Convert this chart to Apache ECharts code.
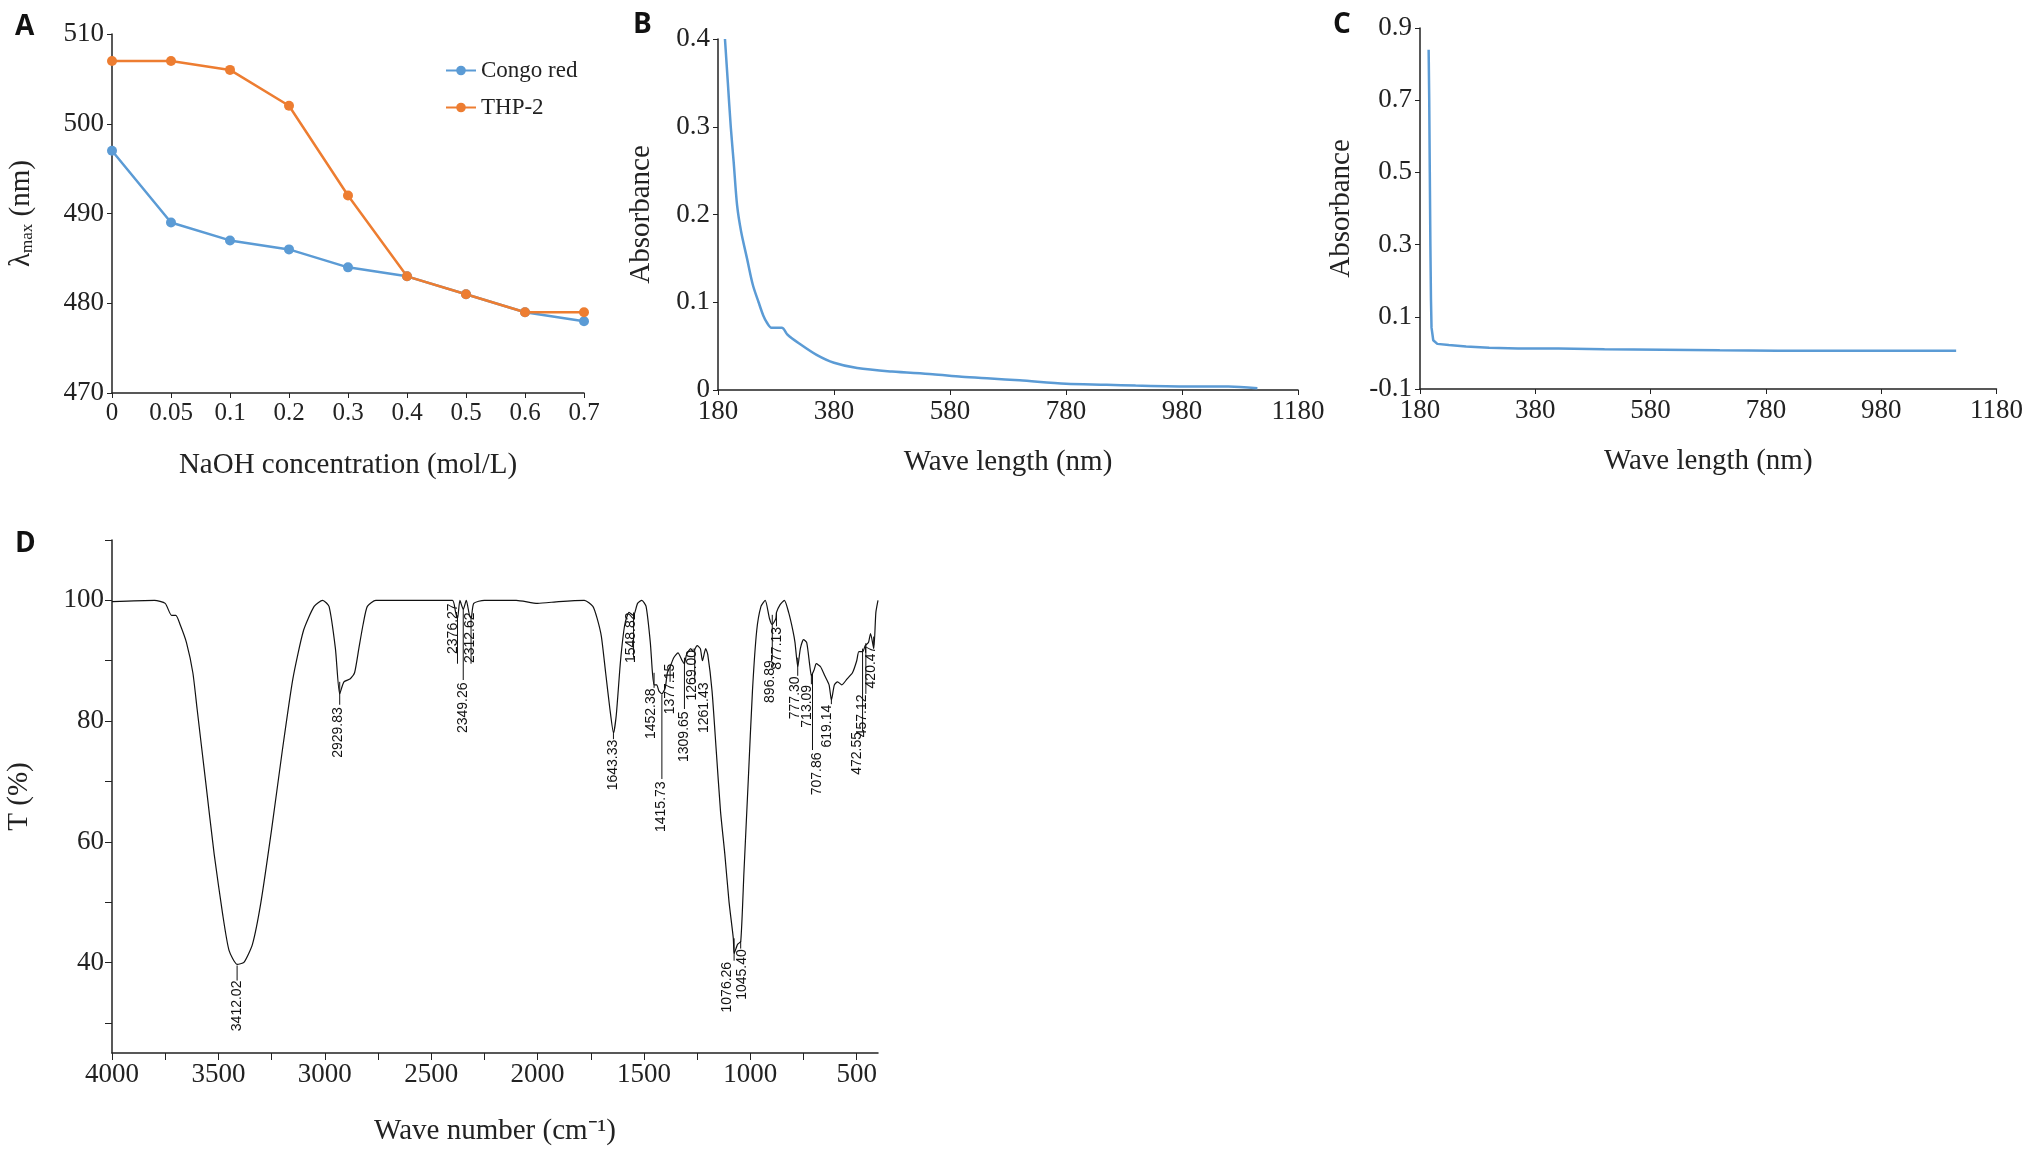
<!DOCTYPE html>
<html>
<head>
<meta charset="utf-8">
<script src="https://cdn.jsdelivr.net/npm/echarts@6/dist/echarts.min.js"></script>
<style>
html, body { margin: 0; padding: 0; background: #fff; }
#chart { width: 2026px; height: 1151px; }
</style>
</head>
<body>
<div id="chart"></div>
<script>
// A: NaOH 浓度
var naohLabels = ['0', '0.05', '0.1', '0.2', '0.3', '0.4', '0.5', '0.6', '0.7'];
var congoRed = [497, 489, 487, 486, 484, 483, 481, 479, 478];
var thp2 = [507, 507, 506, 502, 492, 483, 481, 479, 479];

// B: UV 光谱
var uvB = [[192, 0.4], [197, 0.35], [202, 0.3], [207, 0.26], [213, 0.21], [220, 0.18], [230, 0.15],
    [240, 0.12], [250, 0.1], [258, 0.085], [265, 0.076], [272, 0.071], [290, 0.071], [300, 0.063],
    [320, 0.053], [350, 0.04], [380, 0.031], [420, 0.025], [480, 0.021], [550, 0.018], [600, 0.015],
    [650, 0.013], [700, 0.011], [780, 0.007], [850, 0.006], [900, 0.005], [1000, 0.004], [1060, 0.004], [1110, 0.002]];

// C: UV 光谱
var uvC = [[195, 0.84], [196, 0.7], [197, 0.5], [198, 0.3], [199, 0.15], [200, 0.07], [203, 0.035], [210, 0.025],
    [230, 0.022], [260, 0.018], [300, 0.014], [350, 0.012], [420, 0.012], [500, 0.01], [600, 0.009],
    [700, 0.007], [800, 0.006], [950, 0.006], [1110, 0.006]];

// D: 红外光谱
var irD = [[4000, 99.8], [3800, 100], [3750, 99.5], [3720, 97.5], [3700, 97.5], [3680, 96], [3650, 93], [3620, 88],
    [3600, 82], [3560, 70], [3520, 58], [3480, 48], [3450, 42], [3412, 39.7], [3380, 40], [3340, 43], [3300, 50],
    [3250, 62], [3200, 75], [3150, 87], [3100, 95], [3050, 99], [3010, 100], [2980, 99], [2950, 92], [2930, 84.5],
    [2910, 86.5], [2880, 87], [2860, 88], [2840, 92], [2820, 96], [2800, 99], [2760, 100], [2500, 100], [2400, 100],
    [2385, 98], [2376, 97], [2365, 100], [2349, 98.5], [2335, 100], [2320, 97.5], [2312, 97], [2300, 99.5],
    [2250, 100], [2100, 100], [2000, 99.5], [1900, 99.8], [1780, 100], [1740, 99], [1720, 97], [1700, 94],
    [1680, 88], [1660, 82], [1643, 78], [1630, 81], [1610, 90], [1590, 96], [1570, 98], [1549, 97.5], [1530, 99.5],
    [1510, 100], [1490, 99], [1470, 93], [1460, 88], [1452, 86], [1440, 86], [1430, 85], [1416, 84.5], [1400, 85.5],
    [1390, 88], [1377, 89], [1360, 90.5], [1340, 91.3], [1320, 90], [1310, 89.5], [1300, 91], [1280, 92],
    [1269, 91.5], [1250, 92.5], [1235, 92], [1225, 90], [1210, 92], [1200, 91], [1180, 85], [1160, 75],
    [1140, 65], [1120, 58], [1100, 50], [1080, 44], [1076, 41.5], [1060, 43], [1045, 43.5], [1030, 55],
    [1010, 70], [990, 85], [970, 95], [950, 99], [930, 100], [910, 97], [897, 96], [880, 97], [877, 98],
    [860, 99.3], [840, 100], [820, 98], [800, 95], [790, 93], [777, 89], [765, 92], [750, 93.5], [735, 93],
    [720, 89], [713, 87.5], [700, 88.5], [690, 89.5], [670, 89], [650, 87.5], [630, 86], [619, 83.5], [605, 86],
    [590, 86.5], [570, 86], [545, 87], [520, 88], [500, 90], [490, 91.5], [472, 91.5], [460, 92.5], [445, 93],
    [435, 94.5], [420, 92], [410, 98], [400, 100]];

// 峰标注: [线x, 线上端, 线下端, 文字x, 文字上端, 文字]
var irPeaks = [
    [3412.02, 39.5, 37, 3412, 37, '3412.02'],
    [2929.83, 86.5, 82.7, 2935, 82.3, '2929.83'],
    [2376.27, 97.5, 89.5, 2398, 99.5, '2376.27'],
    [2349.26, 98.5, 86.8, 2352, 86.4, '2349.26'],
    [2312.62, 97, 89.5, 2318, 98, '2312.62'],
    [1643.33, 78, 77, 1643, 76.9, '1643.33'],
    [1548.82, 98, 90.5, 1562, 98, '1548.82'],
    [1452.38, 88, 85.5, 1468, 85.4, '1452.38'],
    [1415.73, 84.4, 70.4, 1419, 70, '1415.73'],
    [1377.15, 89, 86.5, 1379, 89.5, '1377.15'],
    [1309.65, 90.5, 82, 1312, 81.6, '1309.65'],
    [1269.00, 92, 91.8, 1272, 91.8, '1269.00'],
    [1261.43, 92, 86.5, 1218, 86.4, '1261.43'],
    [1076.26, 44, 40.3, 1110, 40.1, '1076.26'],
    [1045.40, 43.5, 42.3, 1038, 42.2, '1045.40'],
    [896.89, 97.6, 90.2, 909, 90.1, '896.89'],
    [877.13, 98, 95.7, 874, 95.6, '877.13'],
    [777.30, 90.5, 87.5, 788, 87.4, '777.30'],
    [713.09, 87.8, 86.1, 734, 86, '713.09'],
    [707.86, 88, 75.2, 688, 74.8, '707.86'],
    [619.14, 84, 82.8, 640, 82.7, '619.14'],
    [472.55, 92, 78.3, 500, 78.2, '472.55'],
    [457.12, 92.9, 84.5, 473, 84.4, '457.12'],
    [420.47, 94, 92.6, 430, 92.5, '420.47']
];

var serif = 'Liberation Serif';
var axisCol = '#222';
var blue = '#5b9bd5';
var orange = '#ed7d31';

function plain(v) { return String(v); }

function baseAxis(extra) {
    var a = {
        axisLine: {show: true, onZero: false, lineStyle: {color: axisCol, width: 1.5}},
        axisTick: {show: true, inside: false, length: 5, lineStyle: {color: axisCol}},
        axisLabel: {color: '#222', fontFamily: serif, fontSize: 27, formatter: plain},
        splitLine: {show: false},
        nameLocation: 'middle',
        nameTextStyle: {color: '#222', fontFamily: serif, fontSize: 29}
    };
    for (var k in extra) a[k] = extra[k];
    return a;
}

function range(a, b, s) {
    var r = [];
    for (var v = a; v <= b + 1e-9; v += s) r.push(Math.round(v * 1000) / 1000);
    return r;
}

var option = {
    animation: false,
    backgroundColor: '#fff',
    title: [
        {text: 'A', left: 10, top: 8, textStyle: {fontFamily: 'Open Sans', fontWeight: 'bold', fontSize: 28, color: '#111'}},
        {text: 'B', left: 628, top: 6, textStyle: {fontFamily: 'Open Sans', fontWeight: 'bold', fontSize: 28, color: '#111'}},
        {text: 'C', left: 1328, top: 6, textStyle: {fontFamily: 'Open Sans', fontWeight: 'bold', fontSize: 28, color: '#111'}},
        {text: 'D', left: 10, top: 525, textStyle: {fontFamily: 'Open Sans', fontWeight: 'bold', fontSize: 28, color: '#111'}}
    ],
    legend: {
        data: ['Congo red', 'THP-2'],
        orient: 'vertical',
        left: 440,
        top: 54,
        itemGap: 14,
        itemWidth: 30,
        itemHeight: 12,
        textStyle: {fontFamily: serif, fontSize: 23, color: '#222'}
    },
    grid: [
        {left: 112, top: 34, width: 472, height: 359},
        {left: 718, top: 39, width: 580, height: 351},
        {left: 1420, top: 28, width: 580, height: 361},
        {left: 112, top: 540, width: 766, height: 513}
    ],
    xAxis: [
        baseAxis({gridIndex: 0, type: 'category', data: naohLabels, boundaryGap: false,
            name: 'NaOH concentration (mol/L)', nameGap: 58,
            axisLabel: {color: '#222', fontFamily: serif, fontSize: 25, interval: 0},
            axisTick: {show: true, alignWithLabel: true, interval: 0, length: 5, lineStyle: {color: axisCol}}}),
        baseAxis({gridIndex: 1, type: 'value', min: 180, max: 1180, interval: 200, name: 'Wave length (nm)', nameGap: 58}),
        baseAxis({gridIndex: 2, type: 'value', min: 180, max: 1180, interval: 200, name: 'Wave length (nm)', nameGap: 58}),
        baseAxis({gridIndex: 3, type: 'value', min: 400, max: 4000, inverse: true, name: 'Wave number (cm⁻¹)', nameGap: 64,
            axisTick: {show: true, length: 7, customValues: range(500, 4000, 250), lineStyle: {color: axisCol}},
            axisLabel: {color: '#222', fontFamily: serif, fontSize: 27, formatter: plain, customValues: range(500, 4000, 500)}})
    ],
    yAxis: [
        baseAxis({gridIndex: 0, type: 'value', min: 470, max: 510, interval: 10, nameGap: 76,
            name: '{a|λ}{s|max}{a| (nm)}',
            nameTextStyle: {rich: {a: {fontFamily: serif, fontSize: 29, color: '#222'},
                s: {fontFamily: serif, fontSize: 17, color: '#222', verticalAlign: 'bottom', padding: [12, 0, 0, 0]}}}}),
        baseAxis({gridIndex: 1, type: 'value', min: 0, max: 0.4, interval: 0.1, name: 'Absorbance', nameGap: 62}),
        baseAxis({gridIndex: 2, type: 'value', min: -0.1, max: 0.9, name: 'Absorbance', nameGap: 64,
            axisTick: {show: true, length: 5, customValues: range(-0.1, 0.9, 0.2), lineStyle: {color: axisCol}},
            axisLabel: {color: '#222', fontFamily: serif, fontSize: 27, formatter: plain, customValues: range(-0.1, 0.9, 0.2)}}),
        baseAxis({gridIndex: 3, type: 'value', min: 25, max: 110, name: 'T (%)', nameGap: 78,
            axisTick: {show: true, length: 7, customValues: range(30, 110, 10), lineStyle: {color: axisCol}},
            axisLabel: {color: '#222', fontFamily: serif, fontSize: 27, formatter: plain, customValues: [40, 60, 80, 100]}})
    ],
    series: [
        {name: 'Congo red', type: 'line', xAxisIndex: 0, yAxisIndex: 0, data: congoRed,
            symbol: 'circle', symbolSize: 10, itemStyle: {color: blue}, lineStyle: {color: blue, width: 2.5}},
        {name: 'THP-2', type: 'line', xAxisIndex: 0, yAxisIndex: 0, data: thp2,
            symbol: 'circle', symbolSize: 10, itemStyle: {color: orange}, lineStyle: {color: orange, width: 2.5}},
        {type: 'line', xAxisIndex: 1, yAxisIndex: 1, data: uvB, showSymbol: false, smooth: 0.3,
            lineStyle: {color: blue, width: 2.5}},
        {type: 'line', xAxisIndex: 2, yAxisIndex: 2, data: uvC, showSymbol: false,
            lineStyle: {color: blue, width: 2.5}},
        {type: 'line', xAxisIndex: 3, yAxisIndex: 3, data: irD, showSymbol: false, smooth: 0.2,
            lineStyle: {color: '#111', width: 1.2}},
        {
            type: 'custom', xAxisIndex: 3, yAxisIndex: 3, data: irPeaks.map(function (p, i) {
                return [p[0], p[1], p[2], p[3], p[4], i];
            }),
            renderItem: function (params, api) {
                var p1 = api.coord([api.value(0), api.value(1)]);
                var p2 = api.coord([api.value(0), api.value(2)]);
                var pl = api.coord([api.value(3), api.value(4)]);
                return {
                    type: 'group',
                    children: [
                        {type: 'line', shape: {x1: p1[0], y1: p1[1], x2: p2[0], y2: p2[1]},
                            style: {stroke: '#111', lineWidth: 1}},
                        {type: 'text', x: pl[0], y: pl[1], rotation: Math.PI / 2,
                            style: {text: irPeaks[api.value(5)][5], align: 'right', verticalAlign: 'middle',
                                fontFamily: 'Liberation Sans', fontSize: 14, fill: '#111'}}
                    ]
                };
            }
        }
    ]
};

var chart = echarts.init(document.getElementById('chart'));
chart.setOption(option);
</script>
</body>
</html>
